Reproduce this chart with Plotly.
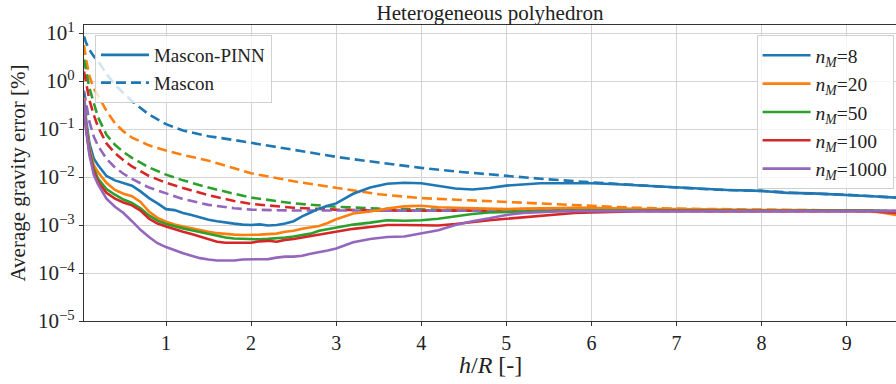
import plotly.graph_objects as go

# ---------------- data ----------------
# altitude grid for Mascon-PINN curves (h/R)
X_PINN = [0.036, 0.06, 0.1, 0.15, 0.2, 0.3, 0.4, 0.5, 0.6, 0.7, 0.8, 0.9, 1.0,
          1.1, 1.2, 1.3, 1.4, 1.5, 1.6, 1.7, 1.8, 1.9, 2.0, 2.1, 2.2, 2.3, 2.4,
          2.5, 2.6, 2.7, 2.8, 2.9, 3.0, 3.2, 3.4, 3.6, 3.8, 4.0, 4.2, 4.4, 4.6,
          4.8, 5.0, 5.2, 5.4, 5.6, 5.8, 6.0, 6.3, 6.6, 7.0, 7.3, 7.6, 8.0, 8.3,
          8.6, 9.0, 9.3, 9.58]

PINN_8 = [0.562, 0.158, 0.0501, 0.0245, 0.0178, 0.0105, 8.51e-3, 7.59e-3, 6.61e-3,
          5.01e-3, 3.63e-3, 2.82e-3, 2.14e-3, 2.04e-3, 1.78e-3, 1.62e-3, 1.45e-3,
          1.29e-3, 1.20e-3, 1.12e-3, 1.07e-3, 1.02e-3, 1.00e-3, 1.03e-3, 9.77e-4,
          1.00e-3, 1.07e-3, 1.20e-3, 1.51e-3, 1.82e-3, 2.19e-3, 2.51e-3, 2.82e-3,
          4.47e-3, 6.03e-3, 7.24e-3, 7.59e-3, 7.41e-3, 6.46e-3, 5.75e-3, 5.50e-3,
          5.89e-3, 6.61e-3, 7.08e-3, 7.41e-3, 7.41e-3, 7.41e-3, 7.41e-3, 7.08e-3,
          6.61e-3, 6.03e-3, 5.62e-3, 5.37e-3, 5.13e-3, 4.68e-3, 4.57e-3, 4.27e-3,
          3.98e-3, 3.72e-3]

PINN_20 = [0.447, 0.126, 0.0398, 0.0178, 0.0126, 7.59e-3, 5.37e-3, 4.47e-3, 3.98e-3,
           3.02e-3, 1.91e-3, 1.41e-3, 1.17e-3, 1.02e-3, 9.33e-4, 8.51e-4, 7.94e-4,
           7.24e-4, 6.76e-4, 6.46e-4, 6.31e-4, 6.17e-4, 6.17e-4, 6.31e-4, 6.46e-4,
           6.61e-4, 7.24e-4, 7.59e-4, 8.32e-4, 8.91e-4, 9.55e-4, 1.10e-3, 1.32e-3,
           1.74e-3, 1.91e-3, 2.19e-3, 2.45e-3, 2.51e-3, 2.34e-3, 2.29e-3, 2.24e-3,
           2.19e-3, 2.14e-3, 2.19e-3, 2.24e-3, 2.24e-3, 2.29e-3, 2.29e-3, 2.19e-3,
           2.14e-3, 2.14e-3, 2.09e-3, 2.09e-3, 2.04e-3, 2.04e-3, 2.04e-3, 2.00e-3,
           1.95e-3, 1.62e-3]

PINN_50 = [0.355, 0.112, 0.0355, 0.0151, 9.33e-3, 5.62e-3, 4.27e-3, 3.39e-3, 2.88e-3,
           2.24e-3, 1.58e-3, 1.23e-3, 1.05e-3, 9.33e-4, 8.51e-4, 7.76e-4, 7.08e-4,
           6.46e-4, 5.89e-4, 5.50e-4, 5.25e-4, 5.13e-4, 5.13e-4, 5.01e-4, 5.13e-4,
           5.25e-4, 5.50e-4, 5.75e-4, 6.17e-4, 6.61e-4, 7.59e-4, 8.13e-4, 8.71e-4,
           1.02e-3, 1.12e-3, 1.26e-3, 1.23e-3, 1.26e-3, 1.35e-3, 1.51e-3, 1.70e-3,
           1.82e-3, 1.86e-3, 1.91e-3, 1.95e-3, 1.95e-3, 2.00e-3, 2.00e-3, 1.98e-3,
           2.00e-3, 2.01e-3, 1.99e-3, 2.00e-3, 2.00e-3, 1.98e-3, 2.00e-3, 2.00e-3,
           1.99e-3, 1.91e-3]

PINN_100 = [0.316, 0.100, 0.0316, 0.0132, 7.94e-3, 4.68e-3, 3.55e-3, 2.95e-3, 2.57e-3,
            2.00e-3, 1.35e-3, 1.07e-3, 9.33e-4, 8.13e-4, 7.24e-4, 6.46e-4, 5.75e-4,
            5.01e-4, 4.47e-4, 4.27e-4, 4.27e-4, 4.27e-4, 4.27e-4, 4.57e-4, 4.68e-4,
            4.47e-4, 4.90e-4, 5.13e-4, 5.50e-4, 5.89e-4, 6.31e-4, 6.76e-4, 7.24e-4,
            8.32e-4, 9.12e-4, 1.00e-3, 1.00e-3, 1.00e-3, 9.77e-4, 1.05e-3, 1.17e-3,
            1.26e-3, 1.35e-3, 1.45e-3, 1.58e-3, 1.70e-3, 1.78e-3, 1.82e-3, 1.91e-3,
            1.95e-3, 1.95e-3, 1.95e-3, 1.96e-3, 1.95e-3, 1.95e-3, 1.96e-3, 1.95e-3,
            1.95e-3, 1.78e-3]

PINN_1000 = [0.398, 0.100, 0.0282, 0.0112, 7.08e-3, 3.55e-3, 2.40e-3, 1.78e-3, 1.20e-3,
             7.94e-4, 5.62e-4, 4.17e-4, 3.47e-4, 2.95e-4, 2.57e-4, 2.29e-4, 2.04e-4,
             1.91e-4, 1.82e-4, 1.82e-4, 1.82e-4, 1.91e-4, 1.91e-4, 1.91e-4, 1.95e-4,
             2.09e-4, 2.19e-4, 2.19e-4, 2.29e-4, 2.51e-4, 2.69e-4, 2.95e-4, 3.24e-4,
             4.37e-4, 5.13e-4, 5.62e-4, 5.75e-4, 6.76e-4, 7.76e-4, 1.00e-3, 1.20e-3,
             1.38e-3, 1.62e-3, 1.78e-3, 1.86e-3, 1.91e-3, 1.95e-3, 1.95e-3, 2.00e-3,
             2.00e-3, 2.00e-3, 2.00e-3, 2.00e-3, 2.00e-3, 2.00e-3, 2.00e-3, 2.00e-3,
             2.00e-3, 1.95e-3]

# altitude grid for plain Mascon curves
X_MASCON = [0.036, 0.06, 0.1, 0.15, 0.2, 0.3, 0.4, 0.5, 0.6, 0.8, 1.0, 1.2, 1.5, 1.8,
            2.0, 2.5, 3.0, 3.5, 4.0, 4.5, 5.0, 5.5, 6.0, 6.5, 7.0, 7.5, 8.0, 8.5, 9.0, 9.58]

MASCON_8 = [8.5, 6.3, 4.47, 3.3, 2.63, 1.41, 0.832, 0.550, 0.380, 0.200, 0.126, 0.0933,
            0.0708, 0.0589, 0.0513, 0.0363, 0.0263, 0.0200, 0.0155, 0.0126, 0.0105,
            8.91e-3, 7.76e-3, 6.76e-3, 6.03e-3, 5.43e-3, 5.13e-3, 4.57e-3, 4.27e-3, 3.72e-3]

MASCON_20 = [5.6, 2.82, 1.26, 0.708, 0.501, 0.240, 0.132, 0.0891, 0.0661, 0.0457, 0.0355,
             0.0288, 0.0219, 0.0151, 0.0120, 8.13e-3, 5.89e-3, 4.37e-3, 3.63e-3, 3.31e-3,
             2.95e-3, 2.69e-3, 2.45e-3, 2.29e-3, 2.19e-3, 2.14e-3, 2.09e-3, 2.04e-3,
             2.00e-3, 1.78e-3]

MASCON_50 = [2.82, 1.58, 0.708, 0.355, 0.178, 0.0759, 0.0468, 0.0331, 0.0251, 0.0158,
             0.0112, 8.51e-3, 6.03e-3, 4.47e-3, 3.72e-3, 2.82e-3, 2.40e-3, 2.19e-3,
             2.09e-3, 2.04e-3, 2.00e-3, 2.00e-3, 2.00e-3, 2.00e-3, 2.00e-3, 2.00e-3,
             2.00e-3, 2.00e-3, 2.00e-3, 1.95e-3]

MASCON_100 = [1.58, 0.891, 0.398, 0.200, 0.112, 0.0501, 0.0316, 0.0224, 0.0166, 0.0105,
              7.59e-3, 5.89e-3, 4.17e-3, 3.16e-3, 2.75e-3, 2.29e-3, 2.09e-3, 2.00e-3,
              2.00e-3, 2.00e-3, 2.00e-3, 2.00e-3, 2.00e-3, 2.00e-3, 2.00e-3, 2.00e-3,
              2.00e-3, 2.00e-3, 2.00e-3, 1.95e-3]

MASCON_1000 = [0.631, 0.355, 0.141, 0.0708, 0.0447, 0.0240, 0.0158, 0.0117, 9.12e-3,
               6.03e-3, 4.57e-3, 3.47e-3, 2.63e-3, 2.24e-3, 2.09e-3, 2.00e-3, 2.00e-3,
               2.00e-3, 2.00e-3, 2.00e-3, 2.00e-3, 2.00e-3, 2.00e-3, 2.00e-3, 2.00e-3,
               2.00e-3, 2.00e-3, 2.00e-3, 2.00e-3, 1.98e-3]

N_M = ["8", "20", "50", "100", "1000"]
COLORS = ["#1f77b4", "#ff7f0e", "#2ca02c", "#d62728", "#9467bd"]
PINN = [PINN_8, PINN_20, PINN_50, PINN_100, PINN_1000]
MASCON = [MASCON_8, MASCON_20, MASCON_50, MASCON_100, MASCON_1000]

Y_TICKS = [1e-5, 1e-4, 1e-3, 1e-2, 1e-1, 1e0, 1e1]
Y_TICKTEXT = ["10<sup>−5</sup>", "10<sup>−4</sup>", "10<sup>−3</sup>", "10<sup>−2</sup>",
              "10<sup>−1</sup>", "10<sup>0</sup>", "10<sup>1</sup>"]
X_TICKS = [1, 2, 3, 4, 5, 6, 7, 8, 9]

FONT = "Liberation Serif"
LW = 2.6
DASH = "10px,5px"
TXT = "#222222"

fig = go.Figure()

# Mascon (dashed) drawn first
for n, c, ys in zip(N_M, COLORS, MASCON):
    fig.add_trace(go.Scatter(x=X_MASCON, y=ys, mode="lines",
                             line=dict(color=c, width=LW, dash=DASH),
                             showlegend=False, hoverinfo="skip"))

for n, c, ys in zip(N_M, COLORS, PINN):
    fig.add_trace(go.Scatter(x=X_PINN, y=ys, mode="lines",
                             line=dict(color=c, width=LW),
                             name=f"<i>n</i><sub><i>M</i></sub>={n}",
                             legend="legend2"))

# style legend entries
fig.add_trace(go.Scatter(x=[None], y=[None], mode="lines",
                         line=dict(color=COLORS[0], width=LW),
                         name="Mascon-PINN", legend="legend"))
fig.add_trace(go.Scatter(x=[None], y=[None], mode="lines",
                         line=dict(color=COLORS[0], width=LW, dash=DASH),
                         name="Mascon", legend="legend"))

fig.update_layout(
    width=896, height=384,
    margin=dict(l=84, r=0, t=25, b=63),
    paper_bgcolor="white", plot_bgcolor="white",
    font=dict(family=FONT, size=18, color=TXT),
    title=dict(text="Heterogeneous polyhedron", x=0.5, xref="paper",
               xanchor="center", y=0.966, yref="container", yanchor="middle",
               font=dict(family=FONT, size=21, color=TXT)),
    showlegend=True,
    legend=dict(x=0.0135, y=0.966, xanchor="left", yanchor="top",
                bgcolor="rgba(255,255,255,0.8)", bordercolor="#d0d0d0", borderwidth=1,
                font=dict(family=FONT, size=19, color=TXT),
                itemwidth=48, tracegroupgap=0),
    legend2=dict(x=0.997, y=0.966, xanchor="right", yanchor="top",
                 bgcolor="rgba(255,255,255,0.8)", bordercolor="#d0d0d0", borderwidth=1,
                 font=dict(family=FONT, size=19.5, color=TXT),
                 itemwidth=48, tracegroupgap=0),
    annotations=[dict(text="<i>h</i>/<i>R</i> [-]", x=0.5, xref="paper",
                      y=-0.15, yref="paper", xanchor="center", yanchor="middle",
                      showarrow=False, font=dict(family=FONT, size=24, color=TXT))],
)

fig.update_xaxes(
    range=[0.036, 9.58], tickvals=X_TICKS, ticktext=[str(t) for t in X_TICKS],
    showgrid=True, gridcolor="#d3d3d3", gridwidth=1,
    showline=True, linecolor="#333333", linewidth=1.2, mirror=True,
    ticks="outside", ticklen=4, tickcolor="#333333",
    tickfont=dict(family=FONT, size=20, color=TXT),
    zeroline=False,
)
fig.update_yaxes(
    type="log", range=[-5, 1.167], tickvals=Y_TICKS, ticktext=Y_TICKTEXT,
    showgrid=True, gridcolor="#d3d3d3", gridwidth=1,
    showline=True, linecolor="#333333", linewidth=1.2,
    ticks="outside", ticklen=4, tickcolor="#333333",
    tickfont=dict(family=FONT, size=21, color=TXT),
    title=dict(text="Average gravity error [%]",
               font=dict(family=FONT, size=21, color=TXT), standoff=6),
    zeroline=False,
)

fig.write_html("out.html")
